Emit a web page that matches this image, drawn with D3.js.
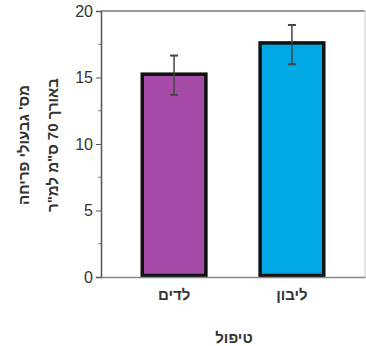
<!DOCTYPE html>
<html>
<head>
<meta charset="utf-8">
<script src="https://cdn.jsdelivr.net/npm/d3@7"></script>
<style>
  body { margin: 0; background: #fff; }
  svg text { font-family: "Liberation Sans", Arial, sans-serif; fill: #222; }
</style>
</head>
<body>
<svg id="chart"></svg>
<script>
// data
const categories = ['לדים', 'ליבון'];
const means = [15.25, 17.6];
const errLow = [13.7, 16.0];
const errHigh = [16.65, 18.95];
const colors = ['#a64ca8', '#00a8e6'];
const yTicks = [0, 5, 10, 15, 20];
const yMinorTicks = [2.5, 7.5, 12.5, 17.5];
const xTitle = 'טיפול';
const yTitle = ['מס\' גבעולי פריחה', 'באורך 70 ס"מ למ"ר'];

const W = 366, H = 346;
const margin = { top: 11, right: 1, bottom: 69, left: 101 };
const width = W - margin.left - margin.right;
const height = H - margin.top - margin.bottom;

const svg = d3.select('#chart').attr('width', W).attr('height', H);
const g = svg.append('g').attr('transform', 'translate(' + margin.left + ',' + margin.top + ')');

const x = d3.scaleBand().domain(categories).range([0, width]).paddingInner(0.46).paddingOuter(0.35);
const y = d3.scaleLinear().domain([0, 20]).range([height, 0]);

// frame
g.append('line').attr('x1', 0).attr('x2', width).attr('y1', 0).attr('y2', 0)
    .attr('stroke', '#999').attr('stroke-width', 2);
g.append('line').attr('x1', width).attr('x2', width).attr('y1', 0).attr('y2', height)
    .attr('stroke', '#ccc').attr('stroke-width', 1);

// bars
g.selectAll('rect.bar').data(categories).enter().append('rect')
    .attr('class', 'bar')
    .attr('x', d => x(d))
    .attr('width', x.bandwidth())
    .attr('y', (d, i) => y(means[i]))
    .attr('height', (d, i) => y(0) - y(means[i]) - 1.5)
    .attr('fill', (d, i) => colors[i])
    .attr('stroke', '#111').attr('stroke-width', 3.5);

// error bars
const eb = g.selectAll('g.err').data(categories).enter().append('g').attr('class', 'err')
    .attr('stroke', '#444').attr('stroke-width', 1.5);
eb.append('line')
    .attr('x1', d => x(d) + x.bandwidth() / 2).attr('x2', d => x(d) + x.bandwidth() / 2)
    .attr('y1', (d, i) => y(errLow[i])).attr('y2', (d, i) => y(errHigh[i]));
eb.append('line')
    .attr('x1', d => x(d) + x.bandwidth() / 2 - 4).attr('x2', d => x(d) + x.bandwidth() / 2 + 4)
    .attr('y1', (d, i) => y(errHigh[i])).attr('y2', (d, i) => y(errHigh[i]))
    .attr('stroke-width', 2);
eb.append('line')
    .attr('x1', d => x(d) + x.bandwidth() / 2 - 4).attr('x2', d => x(d) + x.bandwidth() / 2 + 4)
    .attr('y1', (d, i) => y(errLow[i])).attr('y2', (d, i) => y(errLow[i]))
    .attr('stroke-width', 2);

// y axis
const yAxis = g.append('g').call(d3.axisLeft(y).tickValues(yTicks).tickSize(5).tickPadding(3));
yAxis.select('.domain').attr('stroke', '#555').attr('stroke-width', 1.5);
yAxis.selectAll('.tick line').attr('stroke', '#555');
yAxis.selectAll('.tick text').attr('font-size', 16).style('fill', '#333');
g.append('g').selectAll('line').data(yMinorTicks).enter().append('line')
    .attr('x1', -3).attr('x2', 0).attr('y1', d => y(d)).attr('y2', d => y(d))
    .attr('stroke', '#777');

// x axis
const xAxis = g.append('g').attr('transform', 'translate(0,' + height + ')')
    .call(d3.axisBottom(x).tickSize(0).tickPadding(12));
xAxis.select('.domain').attr('stroke', '#888').attr('stroke-width', 1.5);
xAxis.selectAll('.tick text').attr('font-size', 15).attr('font-weight', 'bold').style('fill', '#333');

// titles
svg.append('text').attr('x', margin.left + width / 2 + 1).attr('y', 343)
    .attr('text-anchor', 'middle').attr('font-size', 15).attr('font-weight', 'bold')
    .style('fill', '#333').text(xTitle);
const yt = svg.append('text').attr('transform', 'translate(0,145) rotate(-90)')
    .attr('text-anchor', 'middle').attr('font-size', 15).attr('font-weight', 'bold').style('fill', '#333');
yt.selectAll('tspan').data(yTitle).enter().append('tspan')
    .attr('x', 0).attr('y', (d, i) => 29 + i * 29).text(d => d);
</script>
</body>
</html>
